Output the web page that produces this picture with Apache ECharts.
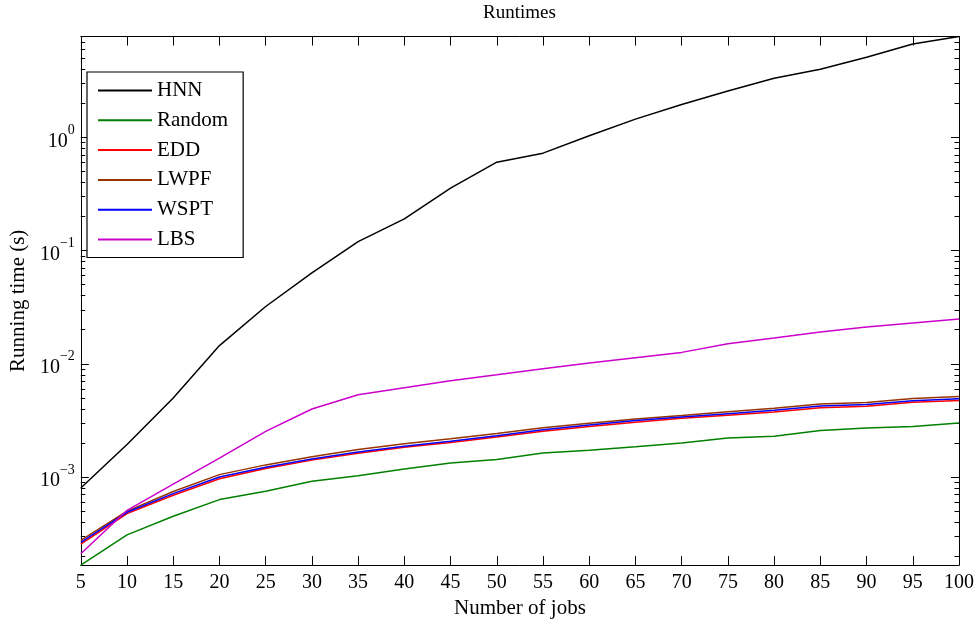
<!DOCTYPE html>
<html>
<head>
<meta charset="utf-8">
<script src="https://cdn.jsdelivr.net/npm/echarts@6/dist/echarts.min.js"></script>
<style>
html,body{margin:0;padding:0;background:#fff;}
#c{width:980px;height:624px;}
</style>
</head>
<body>
<div id="c"></div>
<script>
// ---- data ----
const jobs   = [5,10,15,20,25,30,35,40,45,50,55,60,65,70,75,80,85,90,95,100];
const hnn    = [8.0e-4,1.94e-3,4.99e-3,1.45e-2,3.21e-2,6.37e-2,0.120,0.191,0.356,0.604,0.726,1.035,1.45,1.95,2.57,3.33,4.00,5.10,6.69,7.79];
const random = [1.667e-4,3.08e-4,4.50e-4,6.32e-4,7.48e-4,9.17e-4,1.028e-3,1.18e-3,1.33e-3,1.43e-3,1.63e-3,1.72e-3,1.85e-3,2.00e-3,2.21e-3,2.29e-3,2.57e-3,2.71e-3,2.80e-3,3.00e-3];
const edd    = [2.55e-4,4.75e-4,6.90e-4,9.65e-4,1.19e-3,1.41e-3,1.62e-3,1.83e-3,2.02e-3,2.26e-3,2.54e-3,2.80e-3,3.05e-3,3.30e-3,3.52e-3,3.76e-3,4.10e-3,4.22e-3,4.58e-3,4.75e-3];
const lwpf   = [2.75e-4,5.00e-4,7.45e-4,1.05e-3,1.28e-3,1.51e-3,1.75e-3,1.97e-3,2.18e-3,2.42e-3,2.72e-3,2.98e-3,3.25e-3,3.50e-3,3.78e-3,4.05e-3,4.42e-3,4.55e-3,4.95e-3,5.15e-3];
const wspt   = [2.65e-4,4.88e-4,7.13e-4,1.00e-3,1.22e-3,1.445e-3,1.667e-3,1.87e-3,2.07e-3,2.32e-3,2.62e-3,2.88e-3,3.16e-3,3.39e-3,3.63e-3,3.89e-3,4.24e-3,4.37e-3,4.73e-3,4.92e-3];
const lbs    = [2.10e-4,5.08e-4,8.64e-4,1.47e-3,2.53e-3,3.99e-3,5.33e-3,6.15e-3,7.10e-3,8.00e-3,9.06e-3,1.016e-2,1.132e-2,1.262e-2,1.503e-2,1.69e-2,1.91e-2,2.11e-2,2.29e-2,2.49e-2];
const seriesNames  = ['HNN','Random','EDD','LWPF','WSPT','LBS'];
const seriesColors = ['#000000','#008000','#ff0000','#993300','#0000ff','#cc00cc'];
const xTicks     = [5,10,15,20,25,30,35,40,45,50,55,60,65,70,75,80,85,90,95,100];
const yMajor     = [1e-3,1e-2,1e-1,1];
const yMinor     = [2e-4,3e-4,4e-4,5e-4,6e-4,7e-4,8e-4,9e-4,
                    2e-3,3e-3,4e-3,5e-3,6e-3,7e-3,8e-3,9e-3,
                    2e-2,3e-2,4e-2,5e-2,6e-2,7e-2,8e-2,9e-2,
                    2e-1,3e-1,4e-1,5e-1,6e-1,7e-1,8e-1,9e-1,
                    2,3,4,5,6,7];

const FONT = 'Liberation Serif';
const allSeries = [hnn, random, edd, lwpf, wspt, lbs];
const yMin = Math.min(...random);
const yMax = Math.max(...hnn);

function pairs(vals){ return jobs.map((j,i)=>[j, vals[i]]); }

function logAxis(extra){
  return Object.assign({
    type:'log', logBase:10, min:yMin, max:yMax,
    splitLine:{show:false}, minorTick:{show:false},
    axisLine:{show:false}, axisLabel:{show:false}, axisTick:{show:false}
  }, extra);
}

const chart = echarts.init(document.getElementById('c'), null, {renderer:'canvas'});
chart.setOption({
  animation:false,
  backgroundColor:'#fff',
  title:{
    text:'Runtimes', left:519.5, top:4, padding:0, textAlign:'center',
    textStyle:{fontFamily:FONT, fontSize:19, fontWeight:'normal', color:'#000'}
  },
  legend:{
    data:seriesNames, orient:'vertical', left:87, top:72,
    padding:[8,15,7.5,11], itemWidth:54, itemHeight:2, itemGap:8.8,
    icon:'rect',
    borderColor:'#000', borderWidth:1.2, backgroundColor:'#fff', borderRadius:0,
    textStyle:{fontFamily:FONT, fontSize:21, color:'#000'},
    selectedMode:false
  },
  grid:{left:80, right:21, top:36.5, bottom:58.3, containLabel:false},
  xAxis:[{
    type:'value', min:5, max:100, interval:5, position:'bottom',
    name:'Number of jobs', nameLocation:'middle', nameGap:29,
    nameTextStyle:{fontFamily:FONT, fontSize:21, color:'#000'},
    axisLine:{show:true, lineStyle:{color:'#000', width:1}},
    axisTick:{show:true, inside:true, length:9, lineStyle:{color:'#000'}},
    axisLabel:{fontFamily:FONT, fontSize:20, color:'#000', margin:8},
    splitLine:{show:false}
  },{
    type:'value', min:5, max:100, interval:5, position:'top',
    axisLine:{show:true, lineStyle:{color:'#000', width:1}},
    axisTick:{show:true, inside:true, length:9, lineStyle:{color:'#000'}},
    axisLabel:{show:false}, splitLine:{show:false}
  }],
  yAxis:[
    logAxis({
      position:'left',
      name:'Running time (s)', nameLocation:'middle', nameGap:49,
      nameTextStyle:{fontFamily:FONT, fontSize:21, color:'#000'},
      axisLine:{show:true, lineStyle:{color:'#000', width:1}},
      axisTick:{show:true, inside:true, length:8, customValues:yMajor, lineStyle:{color:'#000'}},
      axisLabel:{
        show:true, customValues:yMajor, margin:6,
        formatter:function(v){
          const e = Math.round(Math.log10(v));
          const s = (e<0 ? '\u2212' + (-e) : String(e));
          return '{b|10}{s|' + s + '}';
        },
        rich:{
          b:{fontFamily:FONT, fontSize:20, lineHeight:28, verticalAlign:'bottom', color:'#000'},
          s:{fontFamily:FONT, fontSize:14, lineHeight:14, verticalAlign:'top', color:'#000'}
        }
      }
    }),
    logAxis({
      position:'left',
      axisTick:{show:true, inside:true, length:4.5, customValues:yMinor, lineStyle:{color:'#000'}}
    }),
    logAxis({
      position:'right',
      axisLine:{show:true, lineStyle:{color:'#000', width:1}},
      axisTick:{show:true, inside:true, length:8, customValues:yMajor, lineStyle:{color:'#000'}}
    }),
    logAxis({
      position:'right',
      axisTick:{show:true, inside:true, length:4.5, customValues:yMinor, lineStyle:{color:'#000'}}
    })
  ],
  series: seriesNames.map((n,i)=>({
    name:n, type:'line', xAxisIndex:0, yAxisIndex:0,
    data:pairs(allSeries[i]),
    symbol:'none', showSymbol:false, smooth:false,
    lineStyle:{color:seriesColors[i], width:1.5},
    itemStyle:{color:seriesColors[i]},
    emphasis:{disabled:true}, z:2+i
  }))
});
</script>
</body>
</html>
